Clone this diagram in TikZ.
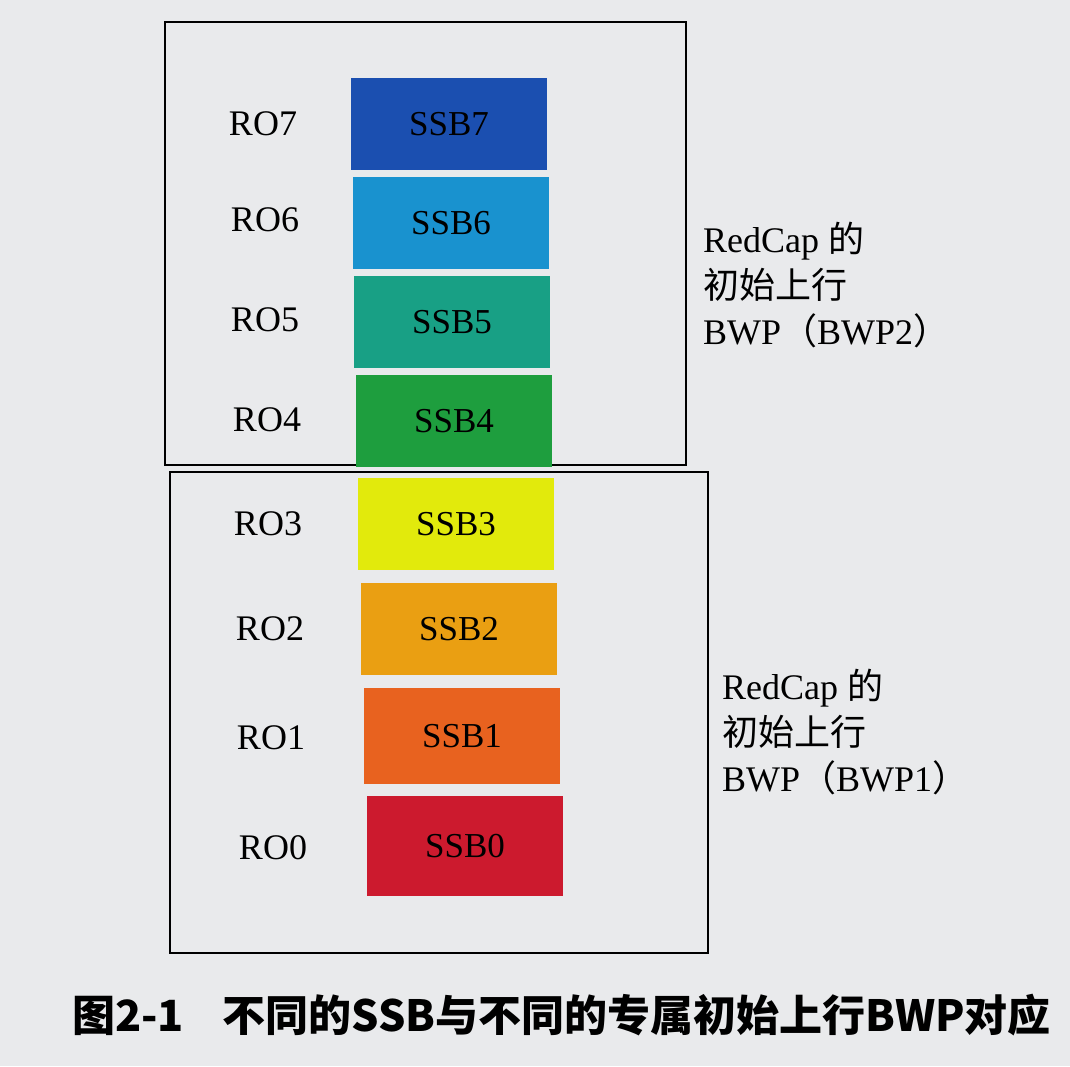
\documentclass[tikz,border=0pt]{standalone}
\usepackage{fontspec}
\setmainfont{Liberation Serif}
\newfontfamily\cjk{Noto Sans CJK SC}
\definecolor{pagegray}{HTML}{E9EAEC}
\definecolor{ssbseven}{HTML}{1B4FB0}
\definecolor{ssbsix}{HTML}{1992CF}
\definecolor{ssbfive}{HTML}{18A085}
\definecolor{ssbfour}{HTML}{1E9E3E}
\definecolor{ssbthree}{HTML}{E2EA0C}
\definecolor{ssbtwo}{HTML}{EA9F12}
\definecolor{ssbone}{HTML}{E8621F}
\definecolor{ssbzero}{HTML}{CC1A2E}
\tikzset{
  ssbbox/.style={minimum width=196pt,minimum height=92pt,inner sep=0pt,
    font=\fontsize{35}{38}\selectfont},
  rolabel/.style={font=\fontsize{36}{38}\selectfont},
  bwpframe/.style={draw,line width=1.8pt},
  bwptext/.style={anchor=west,align=left,inner sep=0pt,
    font=\fontsize{36}{46}\selectfont}
}
\begin{document}
\begin{tikzpicture}[x=1pt,y=-1pt]
\fill[pagegray] (0,0) rectangle (1070,1066);
\useasboundingbox (0,0) rectangle (1070,1066);
\draw[bwpframe] (165,22) rectangle (686,465);
\draw[bwpframe] (170,472) rectangle (708,953);
\node[ssbbox,fill=ssbseven] (ssb7) at (449,124) {SSB7};
\node[ssbbox,fill=ssbsix] (ssb6) at (451,223) {SSB6};
\node[ssbbox,fill=ssbfive] (ssb5) at (452,322) {SSB5};
\node[ssbbox,fill=ssbfour] (ssb4) at (454,421) {SSB4};
\node[ssbbox,fill=ssbthree] (ssb3) at (456,524) {SSB3};
\node[ssbbox,fill=ssbtwo] (ssb2) at (459,629) {SSB2};
\node[ssbbox,fill=ssbone,minimum height=96pt] (ssb1) at (462,736) {SSB1};
\node[ssbbox,fill=ssbzero,minimum height=100pt] (ssb0) at (465,846) {SSB0};
\node[rolabel] (ro7) at (263,124) {RO7};
\node[rolabel] (ro6) at (265,220) {RO6};
\node[rolabel] (ro5) at (265,320) {RO5};
\node[rolabel] (ro4) at (267,420) {RO4};
\node[rolabel] (ro3) at (268,524) {RO3};
\node[rolabel] (ro2) at (270,629) {RO2};
\node[rolabel] (ro1) at (271,738) {RO1};
\node[rolabel] (ro0) at (273,848) {RO0};
\node[bwptext] (bwp2) at (703,285) {RedCap {\cjk 的}\\{\cjk 初始上行}\\BWP{\cjk （}BWP2{\cjk ）}};
\node[bwptext] (bwp1) at (722,732) {RedCap {\cjk 的}\\{\cjk 初始上行}\\BWP{\cjk （}BWP1{\cjk ）}};
\node[anchor=west,inner sep=0pt,font=\cjk\bfseries\fontsize{43}{45}\selectfont] (caption) at (72,1015) {图2-1\hspace{0.9em}不同的SSB与不同的专属初始上行BWP对应};
\end{tikzpicture}
\end{document}
